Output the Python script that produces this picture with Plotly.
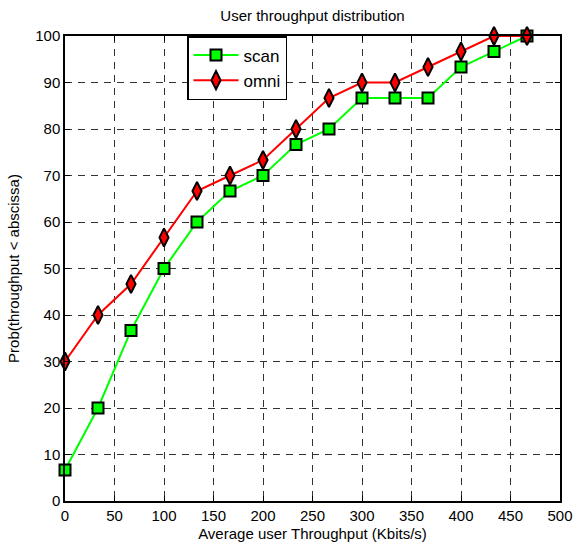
import plotly.graph_objects as go

x_vals = [0, 33.33, 66.67, 100, 133.33, 166.67, 200, 233.33, 266.67, 300, 333.33, 366.67, 400, 433.33, 466.67]
scan = [6.67, 20, 36.67, 50, 60, 66.67, 70, 76.67, 80, 86.67, 86.67, 86.67, 93.33, 96.67, 100]
omni = [30, 40, 46.67, 56.67, 66.67, 70, 73.33, 80, 86.67, 90, 90, 93.33, 96.67, 100, 100]
x_ticks = [0, 50, 100, 150, 200, 250, 300, 350, 400, 450, 500]
y_ticks = [0, 10, 20, 30, 40, 50, 60, 70, 80, 90, 100]

FONT = "Liberation Sans, Arial, sans-serif"

fig = go.Figure()
fig.add_trace(go.Scatter(x=x_vals, y=scan, name="scan", mode="lines+markers",
                         line=dict(color="#00ff00", width=2),
                         marker=dict(symbol="square", size=11, color="#00ff00",
                                     line=dict(color="black", width=2)),
                         cliponaxis=False))
fig.add_trace(go.Scatter(x=x_vals, y=omni, name="omni", mode="lines+markers",
                         line=dict(color="#ff0000", width=2),
                         marker=dict(symbol="diamond-tall", size=13, color="#ff0000",
                                     line=dict(color="black", width=2)),
                         cliponaxis=False))

axis_common = dict(showline=True, linecolor="black", linewidth=1.5, mirror="ticks",
                   ticks="inside", ticklen=5, tickcolor="black",
                   showgrid=True, gridcolor="#333333", gridwidth=1, griddash="7px,6px",
                   zeroline=False, automargin=False,
                   tickfont=dict(size=15, color="black", family=FONT))

fig.update_layout(
    width=586, height=553,
    margin=dict(l=65, r=26, t=36, b=52),
    paper_bgcolor="white", plot_bgcolor="white",
    font=dict(family=FONT, color="black", size=15),
    title=dict(text="User throughput distribution", x=(65 + 560) / 2 / 586, xanchor="center",
               y=1 - 16/553, yanchor="middle", font=dict(size=15)),
    xaxis=dict(range=[0, 500], tickvals=x_ticks,
               title=dict(text="Average user Throughput (Kbits/s)", standoff=6, font=dict(size=15)),
               **axis_common),
    yaxis=dict(range=[0, 100], tickvals=y_ticks,
               title=dict(text="Prob(throughput < abscissa)", standoff=12, font=dict(size=15)),
               **axis_common),
    legend=dict(x=(187 - 65) / 495, y=1.0, xanchor="left", yanchor="top",
                bordercolor="black", borderwidth=1.5, bgcolor="white",
                font=dict(size=17), tracegroupgap=0, itemwidth=45),
    showlegend=True,
)

fig.write_html("out.html", post_script="document.body.style.margin='0px';",
               config={"displayModeBar": False})
